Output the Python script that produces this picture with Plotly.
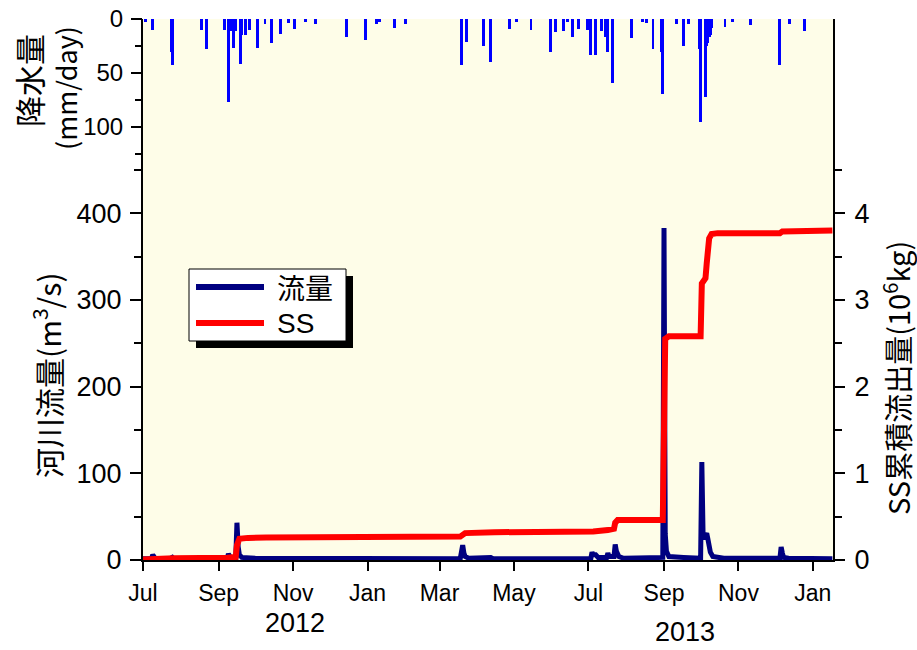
import plotly.graph_objects as go

# ---- daily precipitation (mm/day) ----
rain_dates = [
    "2012-07-03", "2012-07-09", "2012-07-24", "2012-07-25", "2012-08-18", "2012-08-22",
    "2012-09-06", "2012-09-09", "2012-09-11", "2012-09-13", "2012-09-15", "2012-09-19",
    "2012-09-20", "2012-09-23", "2012-09-26",
    "2012-10-03", "2012-10-09", "2012-10-14", "2012-10-22", "2012-10-28", "2012-11-02",
    "2012-11-11", "2012-11-19",
    "2012-12-15", "2012-12-30", "2013-01-08", "2013-01-11", "2013-01-23", "2013-02-01",
    "2013-03-19", "2013-03-23", "2013-04-06", "2013-04-12", "2013-04-27", "2013-05-03",
    "2013-05-15", "2013-05-31",
    "2013-06-04", "2013-06-11", "2013-06-14", "2013-06-18", "2013-06-23", "2013-06-30",
    "2013-07-03", "2013-07-07", "2013-07-12", "2013-07-15", "2013-07-17", "2013-07-21",
    "2013-08-05", "2013-08-14", "2013-08-18", "2013-08-23", "2013-08-30", "2013-08-31",
    "2013-09-11", "2013-09-17", "2013-09-21", "2013-09-30", "2013-10-01", "2013-10-05",
    "2013-10-06", "2013-10-07", "2013-10-08", "2013-10-09", "2013-10-10",
    "2013-10-21", "2013-10-27", "2013-11-11", "2013-12-05", "2013-12-13", "2013-12-25",
]
rain_mm = [
    3, 10, 31, 43, 10, 28,
    10, 77, 11, 27, 11, 42, 15, 15, 10,
    27, 5, 22, 14, 4, 9, 3, 5,
    17, 19, 5, 3, 8, 5,
    43, 21, 25, 40, 9, 3, 10, 31,
    12, 11, 3, 17, 9, 10,
    33, 33, 11, 17, 31, 59,
    18, 3, 4, 28, 31, 69,
    5, 25, 5, 28, 95, 72, 25, 22, 17, 15, 8,
    7, 3, 6, 43, 5, 11,
]

# ---- river discharge (m3/s) ----
flow_dates = [
    "2012-07-01", "2012-07-08", "2012-07-09", "2012-07-10", "2012-07-11", "2012-07-23",
    "2012-07-25", "2012-07-26", "2012-09-08", "2012-09-09", "2012-09-10", "2012-09-11",
    "2012-09-15", "2012-09-16", "2012-09-17", "2012-09-18", "2012-09-20", "2012-09-23",
    "2012-10-01", "2013-03-18", "2013-03-20", "2013-03-21", "2013-03-22", "2013-03-25",
    "2013-04-12", "2013-04-14", "2013-07-03", "2013-07-04", "2013-07-05", "2013-07-07",
    "2013-07-09", "2013-07-16", "2013-07-17", "2013-07-18", "2013-07-22", "2013-07-23",
    "2013-07-24", "2013-07-26", "2013-07-30", "2013-08-31", "2013-09-01", "2013-09-02",
    "2013-09-03", "2013-09-05", "2013-09-15", "2013-09-17", "2013-10-01", "2013-10-02",
    "2013-10-03", "2013-10-04", "2013-10-05", "2013-10-06", "2013-10-07", "2013-10-08",
    "2013-10-09", "2013-10-11", "2013-10-20", "2013-12-05", "2013-12-06", "2013-12-07",
    "2013-12-08", "2013-12-12", "2014-01-17",
]
flow_m3s = [
    1.5, 1.5, 6, 2.5, 1.5, 1.5,
    3, 1.5, 1.5, 7, 3, 2,
    2, 43, 15, 6, 3, 3,
    2, 1.5, 17, 8, 4, 2,
    3, 1.5, 1.5, 9, 6, 6,
    3, 3, 8, 4, 4, 18,
    10, 4, 2, 3, 383, 30,
    10, 4, 2, 3, 2, 113,
    30, 24, 28, 31, 24, 16,
    9, 4, 2, 2, 15, 8,
    3, 2, 1.5,
]

# ---- cumulative suspended-sediment load (10^6 kg) ----
ss_dates = [
    "2012-07-01", "2012-07-10", "2012-07-26", "2012-09-08", "2012-09-10", "2012-09-15",
    "2012-09-16", "2012-09-17", "2012-09-18", "2012-09-25", "2012-10-10", "2013-03-18",
    "2013-03-20", "2013-03-22", "2013-04-15", "2013-07-03", "2013-07-05", "2013-07-17",
    "2013-07-22", "2013-07-23", "2013-07-25", "2013-08-31", "2013-09-01", "2013-09-02",
    "2013-09-05", "2013-10-01", "2013-10-02", "2013-10-04", "2013-10-05", "2013-10-06",
    "2013-10-07", "2013-10-08", "2013-10-10", "2013-10-15", "2013-12-05", "2013-12-07",
    "2014-01-17",
]
ss_cum = [
    0.005, 0.015, 0.02, 0.025, 0.03, 0.035,
    0.17, 0.23, 0.245, 0.255, 0.26, 0.27,
    0.29, 0.31, 0.32, 0.32, 0.33, 0.345,
    0.36, 0.43, 0.46, 0.46, 2.45, 2.55,
    2.58, 2.58, 3.19, 3.22, 3.25, 3.42,
    3.58, 3.71, 3.76, 3.77, 3.77, 3.79,
    3.80,
]

month_ticks_start = "2012-07-01"
x_range = ["2012-07-01", "2014-01-17 12:00"]
flow_ticks = [0, 100, 200, 300, 400]
flow_minor = [50, 150, 250, 350, 450]
ss_ticks = [0, 1, 2, 3, 4]
ss_minor = [0.5, 1.5, 2.5, 3.5, 4.5]
rain_ticks = [0, 50, 100]
rain_minor = [25, 75, 125]

NAVY = "#000080"
RED = "#FF0000"
RAIN = "#0000FF"
BG = "#FEFDE8"
NUM_FONT = "Liberation Sans"
JP_FONT = "Noto Sans CJK JP"

W, H = 917, 650
ML, MR, MT, MB = 143, 84, 19, 90
PW, PH = W - ML - MR, H - MT - MB


def px(x):
    return (x - ML) / PW


def py(y):
    return (H - MB - y) / PH


fig = go.Figure()

fig.add_trace(go.Bar(
    x=rain_dates, y=rain_mm, yaxis="y3", marker=dict(color=RAIN, line=dict(width=0)),
    width=2.4 * 86400000, showlegend=False,
))
fig.add_trace(go.Scatter(
    x=flow_dates, y=flow_m3s, mode="lines", line=dict(color=NAVY, width=5),
    showlegend=False,
))
fig.add_trace(go.Scatter(
    x=ss_dates, y=ss_cum, yaxis="y2", mode="lines", line=dict(color=RED, width=6),
    showlegend=False,
))

axis_common = dict(showgrid=False, zeroline=False, linecolor="black", linewidth=2,
                   tickcolor="black", tickwidth=2, automargin=False)

fig.update_layout(
    width=W, height=H,
    margin=dict(l=ML, r=MR, t=MT, b=MB, autoexpand=False),
    paper_bgcolor="white", plot_bgcolor=BG,
    showlegend=False,
    xaxis=dict(
        type="date", range=x_range, tick0=month_ticks_start, dtick="M2", tickformat="%b",
        ticks="outside", ticklen=9, showline=True,
        tickfont=dict(family=NUM_FONT, size=23, color="black"), ticklabelstandoff=2,
        **axis_common,
    ),
    xaxis2=dict(
        type="date", overlaying="x", matches="x", side="top", anchor="y",
        tick0=month_ticks_start, dtick="M1", ticks="inside", ticklen=7,
        showticklabels=False, showline=True, **axis_common,
    ),
    yaxis=dict(
        range=[0, 624], tickmode="array", tickvals=flow_ticks, ticks="outside", ticklen=11,
        minor=dict(tickmode="array", tickvals=flow_minor, ticks="outside", ticklen=7,
                   tickcolor="black", tickwidth=2),
        showline=True, tickfont=dict(family=NUM_FONT, size=27, color="black"),
        ticklabelstandoff=3, **axis_common,
    ),
    yaxis2=dict(
        range=[0, 6.24], overlaying="y", side="right", anchor="x",
        tickmode="array", tickvals=ss_ticks, ticks="outside", ticklen=10,
        minor=dict(tickmode="array", tickvals=ss_minor, ticks="outside", ticklen=7,
                   tickcolor="black", tickwidth=2),
        showline=True, tickfont=dict(family=NUM_FONT, size=27, color="black"),
        ticklabelstandoff=4, **axis_common,
    ),
    yaxis3=dict(
        range=[501, 0], overlaying="y", side="left", anchor="x",
        tickmode="array", tickvals=rain_ticks, ticks="outside", ticklen=11,
        minor=dict(tickmode="array", tickvals=rain_minor, ticks="outside", ticklen=7,
                   tickcolor="black", tickwidth=2),
        showline=False, tickfont=dict(family=NUM_FONT, size=24, color="black"),
        ticklabelstandoff=3, **axis_common,
    ),
    yaxis4=dict(
        range=[501, 0], overlaying="y", side="right", anchor="x",
        tickmode="array", tickvals=rain_minor[:1] + rain_ticks[1:] + rain_minor[1:],
        ticks="inside", ticklen=7, showticklabels=False, showline=False, **axis_common,
    ),
    bargap=0,
)

# axis titles and year labels
anns = [
    dict(text="降水量", x=px(28), y=py(81), textangle=-90, font=dict(family=JP_FONT, size=31)),
    dict(text="(mm/day)", x=px(66), y=py(88), textangle=-90, font=dict(family=JP_FONT, size=27)),
    dict(text="河川流量(m<sup>3</sup>/s)", x=px(47), y=py(375), textangle=-90,
         font=dict(family=JP_FONT, size=30)),
    dict(text="SS累積流出量(10<sup>6</sup>kg)", x=px(896), y=py(378), textangle=-90,
         font=dict(family=JP_FONT, size=29)),
    dict(text="2012", x=px(295), y=py(623), font=dict(family=NUM_FONT, size=27)),
    dict(text="2013", x=px(685), y=py(632), font=dict(family=NUM_FONT, size=27)),
    dict(text="流量", x=px(275), y=py(287), xanchor="left", font=dict(family=JP_FONT, size=28)),
    dict(text="SS", x=px(275), y=py(323), xanchor="left", font=dict(family=NUM_FONT, size=28)),
]
for a in anns:
    a.setdefault("xanchor", "center")
    fig.add_annotation(xref="paper", yref="paper", yanchor="middle", showarrow=False,
                       font_color="black", **a)

# legend box with drop shadow
shapes = [
    dict(type="rect", x0=px(196), x1=px(353), y0=py(276), y1=py(348),
         fillcolor="black", line=dict(width=0)),
    dict(type="rect", x0=px(189), x1=px(346), y0=py(269), y1=py(341),
         fillcolor="white", line=dict(color="black", width=1)),
    dict(type="line", x0=px(196), x1=px(264), y0=py(287), y1=py(287),
         line=dict(color=NAVY, width=6)),
    dict(type="line", x0=px(196), x1=px(264), y0=py(323), y1=py(323),
         line=dict(color=RED, width=6)),
]
for s in shapes:
    fig.add_shape(xref="paper", yref="paper", layer="above", **s)

fig.write_html("out.html")
